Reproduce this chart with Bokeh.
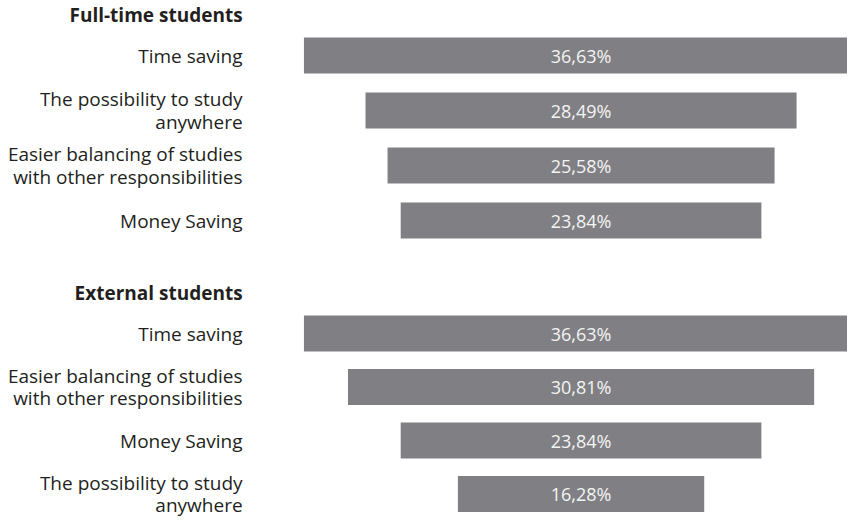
from bokeh.plotting import figure
from bokeh.models import Range1d, ColumnDataSource
from bokeh.core.properties import value
from bokeh.embed import file_html
from bokeh.resources import INLINE

# ---- data ----
group_titles = ["Full-time students", "External students"]
fulltime_labels = ["Time saving", "The possibility to study\nanywhere",
                   "Easier balancing of studies\nwith other responsibilities", "Money Saving"]
fulltime_values = [36.63, 28.49, 25.58, 23.84]
external_labels = ["Time saving", "Easier balancing of studies\nwith other responsibilities",
                   "Money Saving", "The possibility to study\nanywhere"]
external_values = [36.63, 30.81, 23.84, 16.28]

# ---- layout (screen-like y coordinates, x in percent centered on 0) ----
FONT = "Open Sans"
BAR_COLOR = "#808084"
TEXT_COLOR = "#231f20"

group_first_center = [55, 333]
group_pitch = [55, 53.5]
title_y = [14, 292]
label_x = -22.37

p = figure(width=847, height=517, output_backend="svg", toolbar_location=None,
           x_range=Range1d(-38.37, 17.61), y_range=Range1d(517, 0),
           min_border=0, outline_line_color=None)
p.axis.visible = False
p.grid.visible = False
p.background_fill_color = "white"
p.border_fill_color = "white"

groups = [(fulltime_labels, fulltime_values), (external_labels, external_values)]
for gi, (labels, vals) in enumerate(groups):
    ys = [group_first_center[gi] + i * group_pitch[gi] for i in range(len(vals))]
    src = ColumnDataSource(dict(
        y=ys, left=[-v / 2 for v in vals], right=[v / 2 for v in vals],
        zero=[0] * len(vals), lx=[label_x] * len(vals),
        label=labels, pct=[("%.2f" % v).replace(".", ",") + "%" for v in vals]))
    p.hbar(y="y", left="left", right="right", height=36, source=src,
           fill_color=BAR_COLOR, line_color=None)
    p.text(x="zero", y="y", text="pct", source=src, text_align="center",
           text_baseline="middle", text_font=value(FONT), text_font_size="18px",
           text_color="#f4f4f4")
    p.text(x="lx", y="y", text="label", source=src, text_align="right",
           text_baseline="middle", text_font=value(FONT), text_font_size="19px",
           text_color=TEXT_COLOR, text_line_height=0.87)
    p.text(x=[label_x], y=[title_y[gi]], text=[group_titles[gi]], text_align="right",
           text_baseline="middle", text_font=value(FONT), text_font_size="19px",
           text_font_style="bold", text_color=TEXT_COLOR)

open("out.html", "w").write(file_html(p, INLINE))
